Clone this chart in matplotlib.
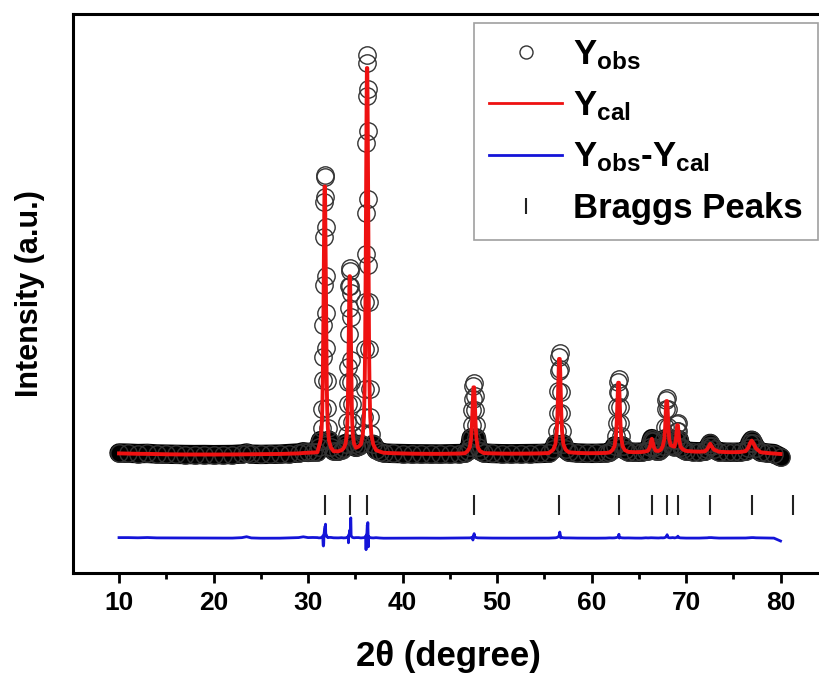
import numpy as np
import matplotlib.pyplot as plt
from matplotlib.ticker import MultipleLocator

plt.rcParams['font.family'] = ['Liberation Sans', 'DejaVu Sans']
plt.rcParams['font.weight'] = 'bold'
plt.rcParams['axes.labelweight'] = 'bold'
plt.rcParams['mathtext.fontset'] = 'custom'
plt.rcParams['mathtext.rm'] = 'Liberation Sans:bold'
plt.rcParams['mathtext.bf'] = 'Liberation Sans:bold'
plt.rcParams['mathtext.it'] = 'Liberation Sans:bold'

two_theta = [
    10.0, 11.0, 12.0, 13.0, 14.0, 15.0, 16.0, 17.0, 18.0, 19.0, 20.0, 21.0, 22.0,
    23.0, 23.5, 24.0, 25.0, 26.0, 27.0, 28.0, 29.0, 29.5, 30.0, 30.5, 31.0,
    31.12, 31.32, 31.44, 31.51, 31.56, 31.60, 31.63, 31.66, 31.69, 31.72, 31.75,
    31.79, 31.82, 31.85, 31.88, 31.91, 31.94, 31.98, 32.03, 32.10, 32.22, 32.42,
    32.7, 33.2, 33.55,
    33.77, 33.97, 34.09, 34.16, 34.21, 34.25, 34.28, 34.31, 34.34, 34.37, 34.40,
    34.44, 34.47, 34.50, 34.53, 34.56, 34.59, 34.63, 34.68, 34.75, 34.87, 35.07,
    35.35,
    35.60, 35.80, 35.92, 35.99, 36.04, 36.08, 36.11, 36.14, 36.17, 36.20, 36.23,
    36.27, 36.30, 36.33, 36.36, 36.39, 36.42, 36.46, 36.51, 36.58, 36.70, 36.90,
    37.2, 37.6, 38.0, 39.0, 40.0, 41.0, 42.0, 43.0, 44.0, 45.0, 46.0, 46.6,
    46.89, 47.12, 47.26, 47.34, 47.40, 47.45, 47.50, 47.58, 47.63, 47.68, 47.74,
    47.82, 47.96, 48.19,
    48.6, 49.5, 50.5, 51.5, 52.5, 53.5, 54.5, 55.5,
    55.95, 56.18, 56.32, 56.40, 56.46, 56.51, 56.56, 56.64, 56.69, 56.74, 56.80,
    56.88, 57.02, 57.25,
    57.6, 58.5, 59.5, 60.5, 61.5, 61.9,
    62.21, 62.44, 62.58, 62.66, 62.72, 62.77, 62.82, 62.90, 62.95, 63.00, 63.06,
    63.14, 63.28, 63.51,
    63.9, 64.6, 65.3, 65.75,
    65.98, 66.18, 66.30, 66.38, 66.46, 66.58, 66.78,
    67.1, 67.35,
    67.54, 67.70, 67.79, 67.86, 67.92, 68.00, 68.06, 68.13, 68.22, 68.38,
    68.6,
    68.78, 68.92, 69.00, 69.06, 69.14, 69.20, 69.28, 69.42, 69.65,
    70.0, 70.7, 71.4, 72.0,
    72.25, 72.42, 72.56, 72.70, 72.95,
    73.5, 74.3, 75.0, 75.7, 76.3,
    76.58, 76.78, 76.95, 77.12, 77.40,
    77.9, 78.6, 79.3, 80.0,
]
y_obs = [
    300, 295, 285, 290, 275, 270, 265, 262, 260, 262, 258, 260, 262,
    275, 300, 270, 265, 268, 272, 285, 300, 330, 315, 325, 330,
    440, 610, 930, 1400, 2120, 2700, 3500, 4500, 5700, 6570, 7200,
    7250, 6700, 5950, 4730, 3790, 2930, 2100, 1420, 920, 620, 450,
    350, 345, 380,
    422, 537, 744, 1066, 1526, 2078, 2450, 3274, 3918, 4470, 4838,
    4925, 4470, 4300, 3700, 2630, 2078, 1526, 1066, 744, 537, 440,
    470,
    518, 766, 1211, 1904, 2894, 4082, 5270, 6300, 8042, 9230, 10050,
    10250, 9400, 8350, 6656, 5000, 4082, 2894, 1904, 1211, 766, 518,
    380, 335, 300, 290, 285, 280, 278, 275, 275, 280, 285, 295,
    352, 448, 677, 994, 1381, 1650, 1980, 2050, 1733, 1381, 994,
    677, 448, 352,
    300, 288, 282, 280, 282, 285, 288, 298,
    388, 525, 850, 1300, 1850, 2350, 2700, 2800, 2400, 1820, 1300,
    850, 525, 388,
    320, 300, 292, 292, 300, 315,
    375, 477, 717, 1050, 1457, 1827, 2086, 2150, 1800, 1457, 1050,
    717, 477, 375,
    330, 318, 322, 345,
    360, 460, 600, 660, 600, 460, 360,
    350, 390,
    479, 650, 954, 1390, 1627, 1680, 1390, 954, 650, 500,
    480,
    462, 632, 850, 1013, 1040, 850, 632, 462, 394,
    350, 335, 330, 345,
    400, 480, 540, 480, 390,
    330, 320, 318, 322, 345,
    430, 560, 620, 560, 420,
    320, 300, 285, 200,
]
y_cal = [
    290, 285, 280, 278, 272, 268, 265, 263, 262, 262, 262, 262, 264,
    266, 268, 268, 270, 272, 276, 282, 290, 300, 305, 312, 320,
    436, 606, 912, 1388, 2068, 2884, 3700, 4652, 5604, 6420, 6964,
    6964, 6420, 5604, 4652, 3700, 2884, 2068, 1388, 912, 606, 436,
    345, 342, 372,
    420, 532, 733, 1047, 1495, 2032, 2570, 3197, 3824, 4362, 4720,
    4720, 4362, 3824, 3197, 2570, 2032, 1495, 1047, 733, 532, 430,
    460,
    516, 761, 1202, 1888, 2868, 4044, 5220, 6592, 7964, 9140, 9924,
    9924, 9140, 7964, 6592, 5220, 4044, 2868, 1888, 1202, 761, 516,
    372, 335, 305, 295, 288, 283, 280, 279, 279, 282, 286, 293,
    350, 445, 668, 978, 1356, 1700, 1941, 1941, 1700, 1356, 978,
    668, 445, 350,
    298, 290, 285, 283, 284, 286, 290, 300,
    386, 520, 839, 1280, 1819, 2309, 2652, 2652, 2309, 1819, 1280,
    839, 520, 386,
    318, 302, 295, 296, 302, 312,
    374, 474, 710, 1038, 1438, 1802, 2057, 2057, 1802, 1438, 1038,
    710, 474, 374,
    328, 320, 325, 340,
    358, 455, 594, 655, 594, 455, 358,
    350, 385,
    476, 644, 940, 1366, 1598, 1598, 1366, 940, 644, 495,
    470,
    459, 624, 835, 994, 994, 835, 624, 459, 393,
    352, 338, 332, 342,
    395, 470, 530, 470, 385,
    332, 322, 320, 325, 345,
    425, 550, 610, 550, 415,
    318, 300, 288, 275,
]
bragg_pos = [31.77, 34.42, 36.25, 47.54, 56.60, 62.86, 66.38, 67.96, 69.10,
             72.56, 76.95, 81.37]

bragg_level = -1000
diff_level = -1825
band_limit = 700

tt = np.array(two_theta)
obs = np.array(y_obs, dtype=float)
cal = np.array(y_cal, dtype=float)

fig = plt.figure(figsize=(8.2, 6.73), dpi=100)
ax = fig.add_axes([73 / 820, 100 / 673, 751 / 820, 559 / 673])

# dense observed points near background merge into a dark band
band = np.where(obs < band_limit, obs, np.nan)
ax.plot(tt, band, color='black', lw=14, solid_capstyle='round',
        solid_joinstyle='round', zorder=1)
ax.plot(tt, obs, 'o', ms=12.5, mfc='none', mec='#333333', mew=1.0,
        zorder=2, label=r'$\mathregular{Y_{obs}}$')
ax.plot(tt, cal, color='#ee1111', lw=2.8, zorder=3,
        label=r'$\mathregular{Y_{cal}}$')
ax.plot(tt, obs - cal + diff_level, color='#1414d8', lw=2, zorder=3,
        label=r'$\mathregular{Y_{obs}\text{-}Y_{cal}}$')
ax.plot(bragg_pos, [bragg_level] * len(bragg_pos), '|', ms=15, mew=1.5,
        color='#222222', label='Braggs Peaks')

ax.set_xlim(5.13, 84.6)
ax.set_ylim(-2700, 11275)
ax.set_yticks([])
ax.xaxis.set_major_locator(MultipleLocator(10))
ax.xaxis.set_minor_locator(MultipleLocator(5))
ax.tick_params(axis='x', which='major', direction='out', length=7, width=2,
               labelsize=19, pad=6)
ax.tick_params(axis='x', which='minor', direction='out', length=4, width=2)
for sp in ax.spines.values():
    sp.set_linewidth(2.2)

ax.set_xlabel('2θ (degree)', fontsize=25, fontweight='bold', labelpad=18)
ax.set_ylabel('Intensity (a.u.)', fontsize=22, fontweight='bold', labelpad=20)

leg = ax.legend(loc='upper right', bbox_to_anchor=(0.992, 0.984),
                borderaxespad=0, fontsize=25, frameon=True, fancybox=False,
                edgecolor='#888888', handlelength=2.1, handletextpad=0.3,
                labelspacing=0.5, borderpad=0.45, markerscale=0.75)
leg.get_frame().set_linewidth(1.2)
for h in leg.get_lines()[1:3]:
    h.set_linewidth(2)

plt.savefig('out.png', dpi=100)
